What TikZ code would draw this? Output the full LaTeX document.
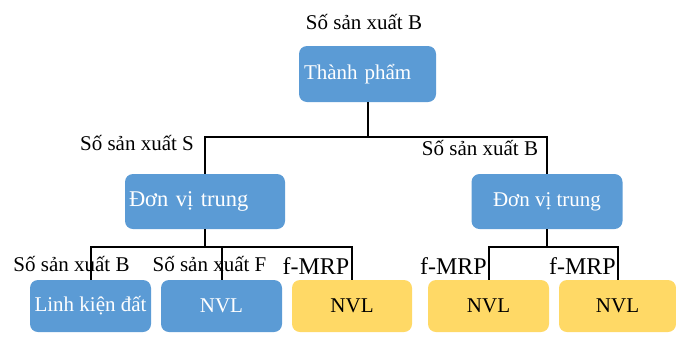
\documentclass[tikz,border=0pt]{standalone}
\usepackage{fontspec}
\setmainfont{Liberation Serif}
\definecolor{boxblue}{RGB}{91,155,213}
\definecolor{boxyellow}{RGB}{255,217,102}
\begin{document}
\begin{tikzpicture}[x=1pt,y=-1pt,
  blubox/.style={fill=boxblue,text=white,rounded corners=8pt,inner sep=0pt,
    font=\fontsize{21}{25}\selectfont},
  yelbox/.style={fill=boxyellow,text=black,rounded corners=8pt,inner sep=0pt,
    font=\fontsize{21}{25}\selectfont},
  lbl/.style={inner sep=0pt,font=\fontsize{21}{25}\selectfont},
  mrp/.style={inner sep=0pt,font=\fontsize{24}{28}\selectfont},
  link/.style={line width=2pt}]
\useasboundingbox (0,0) rectangle (676,338);

% root
\node[blubox,minimum width=137pt,minimum height=56pt,text width=127pt,
  align=left,inner xsep=5pt] (root) at (367.5,74) {Thành phẩm};

% intermediate units
\node[blubox,minimum width=160pt,minimum height=55pt,text width=152pt,
  align=left,inner xsep=4pt,font=\fontsize{22.5}{27}\selectfont]
  (unitL) at (205,201.5) {Đơn vị trung};
\node[blubox,minimum width=151pt,minimum height=55pt] (unitR) at (547,201.5) {Đơn vị trung};

% leaves
\node[blubox,minimum width=121pt,minimum height=52pt] (leaf1) at (90.5,306) {Linh kiện đất};
\node[blubox,minimum width=121pt,minimum height=52pt] (leaf2) at (221.5,306) {NVL};
\node[yelbox,minimum width=120pt,minimum height=52pt] (leaf3) at (352,306) {NVL};
\node[yelbox,minimum width=121pt,minimum height=52pt] (leaf4) at (488.5,306) {NVL};
\node[yelbox,minimum width=117pt,minimum height=52pt] (leaf5) at (617.5,306) {NVL};

% annotations
\node[lbl] (tB) at (364,22) {Số sản xuất B};
\node[lbl] (tS) at (137,143) {Số sản xuất S};
\node[lbl] (tB2) at (480,148) {Số sản xuất B};
\node[lbl] (tB3) at (71.5,264) {Số sản xuất B};
\node[lbl] (tF) at (209.5,264) {Số sản xuất F};
\node[mrp] (m1) at (316,266) {f-MRP};
\node[mrp] (m2) at (453.5,266) {f-MRP};
\node[mrp] (m3) at (582.5,266) {f-MRP};

% connectors
\draw[link] (root.south) -- ++(0,35) coordinate (barA);
\draw[link] (barA) -| (unitL.north);
\draw[link] (barA) -| (unitR.north);
\draw[link] (unitL.south) -- ++(0,18) coordinate (barL);
\draw[link] (barL) -| (leaf1.north);
\draw[link] (barL) -| (leaf2.north);
\draw[link] (barL) -| (leaf3.north);
\draw[link] (unitR.south) -- ++(0,18) coordinate (barR);
\draw[link] (barR) -| (leaf4.north);
\draw[link] (barR) -| (leaf5.north);
\end{tikzpicture}
\end{document}
